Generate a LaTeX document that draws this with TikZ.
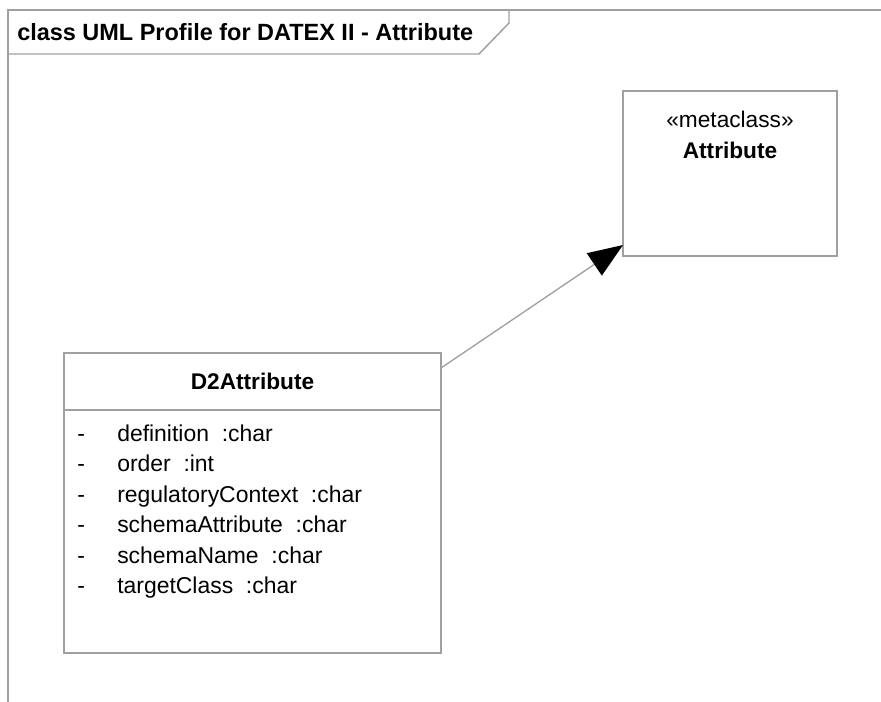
\documentclass[tikz,border=0pt]{standalone}
\usepackage{fontspec}
\setmainfont{Liberation Sans}
\usetikzlibrary{arrows.meta}
\definecolor{linegray}{HTML}{A0A0A0}
\tikzset{
  px/.style={x=0.75pt,y=-0.75pt},
  frameline/.style={draw=linegray,line width=1.1pt},
  boxline/.style={draw=linegray,line width=1.1pt},
  txt/.style={inner sep=0pt,font=\fontsize{17}{20}\selectfont,text=black},
  boldtxt/.style={txt,font=\fontsize{17}{20}\selectfont\bfseries},
  attr/.style={txt,anchor=base west,font=\fontsize{17.2}{20}\selectfont},
  genarrow/.style={draw=linegray,line width=1pt,-{Triangle[length=26pt,width=20pt,fill=black,color=black]}}
}
\begin{document}
\begin{tikzpicture}[px]
\useasboundingbox (0,0) rectangle (881,702);
% frame
\draw[frameline] (8,702) -- (8,10) -- (881,10);
\draw[frameline] (8,54) -- (479,54) -- (509,23) -- (509,10);
\node[txt,anchor=west,font=\fontsize{17.6}{21}\selectfont\bfseries] (title) at (17,32) {class UML Profile for DATEX II - Attribute};
% metaclass Attribute
\node[boxline,minimum width=214*0.75pt,minimum height=165*0.75pt,inner sep=0pt] (meta) at (730,173.5) {};
\node[txt] (stereo) at (730,119) {«metaclass»};
\node[boldtxt] (metaname) at (730,150) {Attribute};
% D2Attribute
\node[boxline,minimum width=377*0.75pt,minimum height=300*0.75pt,inner sep=0pt] (d2) at (252.5,503) {};
\coordinate (sepL) at (64,410);
\coordinate (sepR) at (441,410);
\draw[boxline] (sepL) -- (sepR);
\node[boldtxt] (d2name) at (252.5,381) {D2Attribute};
\foreach \i/\t in {0/{definition\ \ :char},1/{order\ \ :int},2/{regulatoryContext\ \ :char},3/{schemaAttribute\ \ :char},4/{schemaName\ \ :char},5/{targetClass\ \ :char}}{
  \node[attr] (dash\i) at (77,441+30.5*\i) {-};
  \node[attr] (a\i) at (117,441+30.5*\i) {\t};
}
% generalization
\coordinate (gstart) at (441,368);
\coordinate (gend) at (623,245);
\draw[genarrow] (gstart) -- (gend);
\end{tikzpicture}
\end{document}
